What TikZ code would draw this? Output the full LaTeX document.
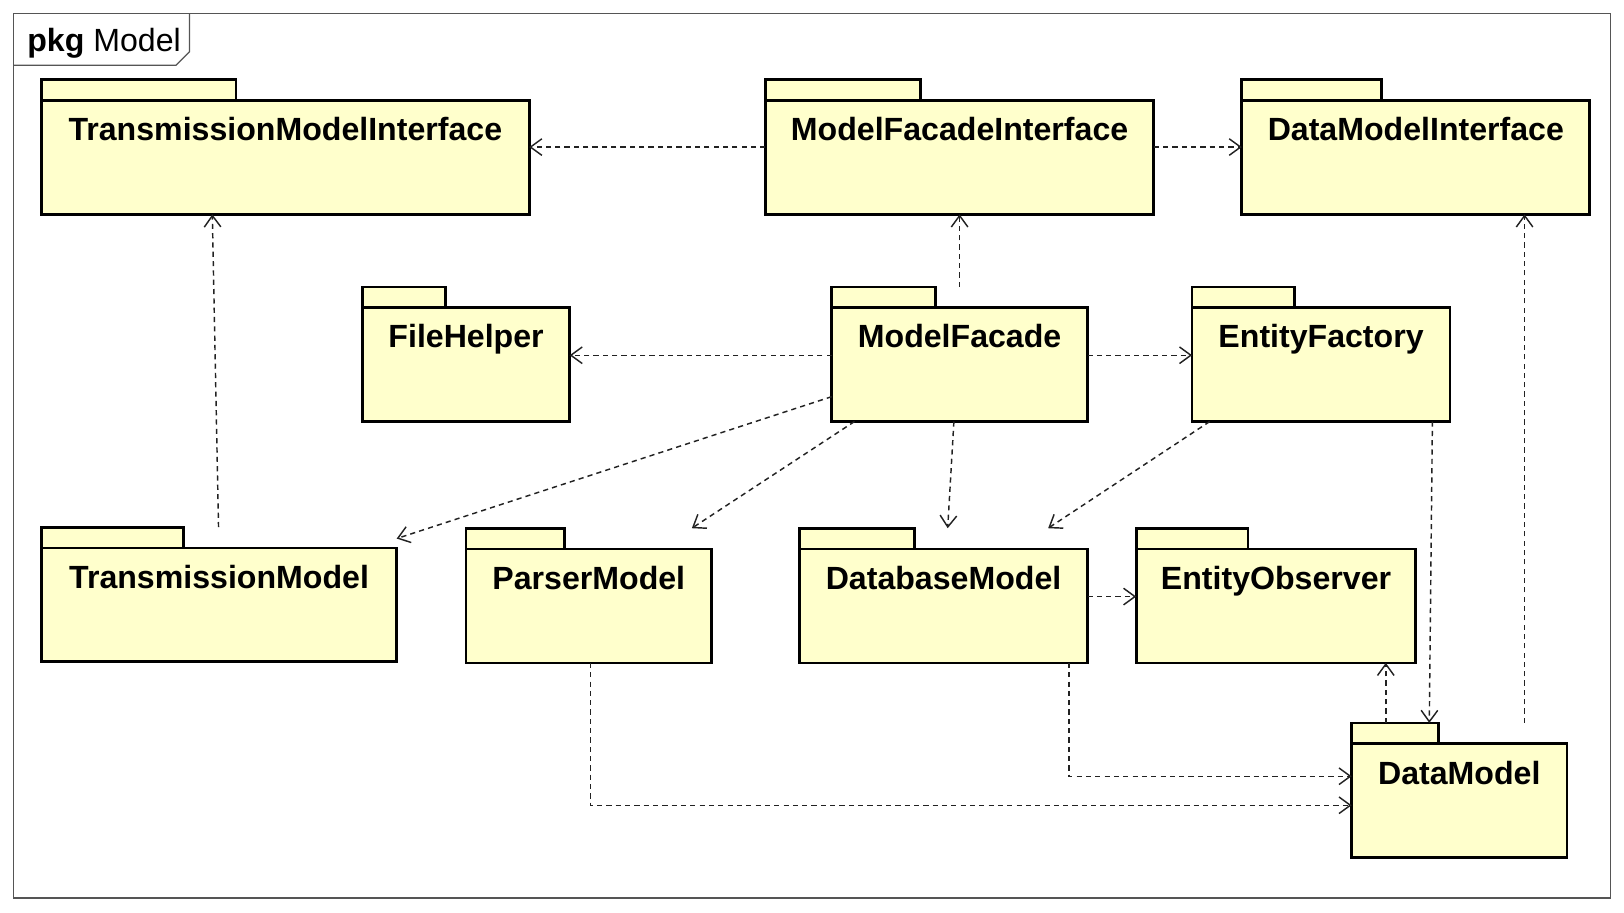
\documentclass[tikz,border=0pt]{standalone}
\usepackage{fontspec}
\setmainfont{Liberation Sans}
\usepackage{xcolor}
\usepackage{tikz}
\usetikzlibrary{arrows.meta}
\definecolor{pkgyellow}{HTML}{FFFFCC}
\definecolor{framegrey}{HTML}{555555}
\definecolor{depgrey}{HTML}{222222}

% package: name, x, y, width, tab width, label
\newcommand{\umlpkg}[6]{%
  \node[pkgbody, minimum width=#4*0.5pt] (#1) at (#2,#3) {};
  \node[pkgtab, minimum width=#5*0.5pt] (#1-tab) at (#1.north west) {};
  \node[pkglabel] (#1-label) at ([yshift=-19.5pt]#1.north) {#6};
}

\begin{document}
\begin{tikzpicture}[
  x=0.5pt, y=-0.5pt,
  every node/.style={font=\fontsize{15.5}{18}\selectfont},
  pkgbody/.style={draw, line width=1.3pt, fill=pkgyellow, anchor=north west,
    minimum height=55pt, inner sep=0pt, outer sep=0pt},
  pkgtab/.style={draw, line width=1.3pt, fill=pkgyellow, anchor=south west,
    minimum height=10pt, inner sep=0pt, outer sep=0pt},
  pkglabel/.style={anchor=base, font=\fontsize{15.5}{18}\selectfont\bfseries},
  dep/.style={draw=depgrey, line width=0.7pt, dash pattern=on 2.5pt off 2pt,
    -{Straight Barb[length=5.5pt,width=8pt]}}
]
\useasboundingbox (0,0) rectangle (1568,881);

% frame
\draw[framegrey, line width=0.6pt] (13,13) rectangle (1555,867);
\draw[framegrey, line width=0.6pt] (13,63) -- (170,63) -- (183,50) -- (183,13);
\node[anchor=base west, inner sep=0pt] (frame-label) at (26,50) {\textbf{pkg} Model};

% packages
\umlpkg{TMI}{40}{97}{471}{188}{TransmissionModelInterface}
\umlpkg{MFI}{739}{97}{375}{150}{ModelFacadeInterface}
\umlpkg{DMI}{1199}{97}{336}{135}{DataModelInterface}
\umlpkg{FH}{350}{297}{200}{80}{FileHelper}
\umlpkg{MF}{803}{297}{247}{100}{ModelFacade}
\umlpkg{EF}{1151}{297}{249}{99}{EntityFactory}
\umlpkg{TM}{40}{529}{343}{137}{TransmissionModel}
\umlpkg{PM}{450}{530}{237}{95}{ParserModel}
\umlpkg{DBM}{772}{530}{278}{111}{DatabaseModel}
\umlpkg{EO}{1097}{530}{270}{108}{EntityObserver}
\umlpkg{DM}{1305}{718}{208}{84}{DataModel}

% dependencies
\draw[dep] ([yshift=5pt]MFI.west) -- ([yshift=5pt]TMI.east);
\draw[dep] ([yshift=5pt]MFI.east) -- ([yshift=5pt]DMI.west);
\draw[dep] (MFI.south |- MF-tab.north) -- (MFI.south);
\draw[dep] ([xshift=85.5pt]TM-tab.north west) -- ([xshift=82.5pt]TMI.south west);
\draw[dep] ([yshift=4.5pt]MF.west) -- ([yshift=4.5pt]FH.east);
\draw[dep] ([yshift=4.5pt]MF.east) -- ([yshift=4.5pt]EF.west);
\draw[dep] ([yshift=-15.5pt]MF.west) -- ([yshift=4.5pt]TM.north east);
\draw[dep] ([xshift=11pt]MF.south west) -- ([xshift=109pt]PM-tab.north west);
\draw[dep] ([xshift=59pt]MF.south west) -- ([xshift=71.5pt]DBM-tab.north west);
\draw[dep] ([xshift=8.5pt]EF.south west) -- ([xshift=120pt]DBM-tab.north west);
\draw[dep] ([xshift=116pt]EF.south west) -- ([xshift=37.5pt]DM-tab.north west);
\draw[dep] ([yshift=4.5pt]DBM.east) -- ([yshift=4.5pt]EO.west);
\draw[dep] ([xshift=16.5pt]DM-tab.north west) -- ([xshift=120.5pt]EO.south west);
\draw[dep] ([xshift=83.5pt]DM-tab.north west) -- ([xshift=136.5pt]DMI.south west);
\draw[dep] ([xshift=130pt]DBM.south west) |- ([yshift=11.75pt]DM.west);
\draw[dep] ([xshift=60pt]PM.south west) |- ([yshift=-2.25pt]DM.west);

\end{tikzpicture}
\end{document}
